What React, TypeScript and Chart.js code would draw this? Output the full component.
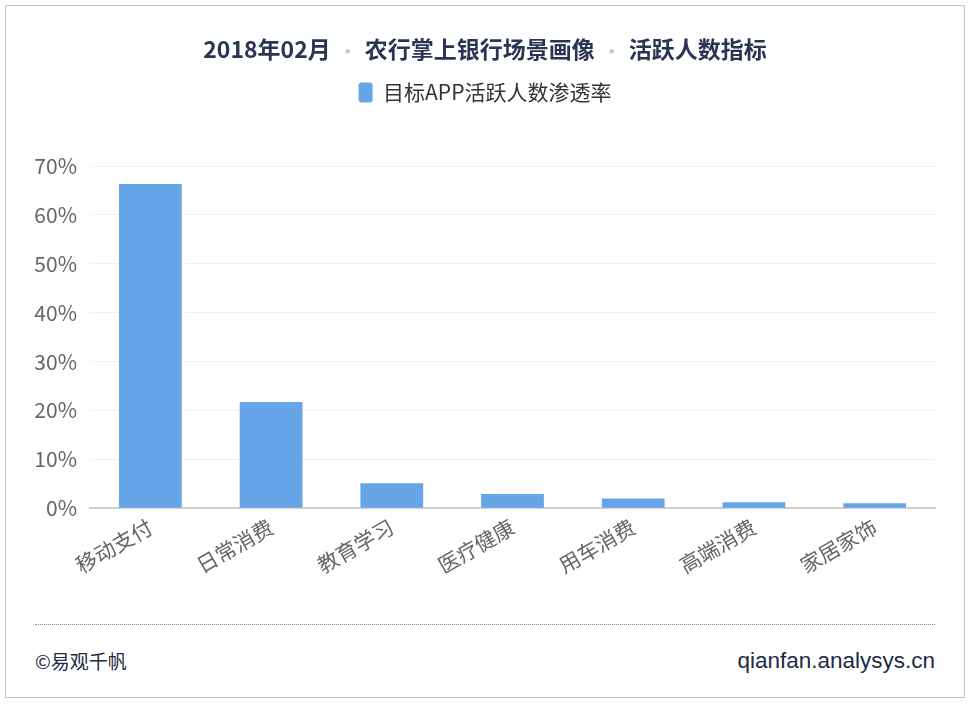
import React, { useEffect, useRef } from "react";
import { Chart, registerables } from "chart.js";

Chart.register(...registerables);

const categories = ["移动支付", "日常消费", "教育学习", "医疗健康", "用车消费", "高端消费", "家居家饰"];
const penetration = [66.3, 21.7, 5.1, 2.9, 2.0, 1.2, 1.0];
const yTicks = [0, 10, 20, 30, 40, 50, 60, 70];
const seriesName = "目标APP活跃人数渗透率";
const titleParts = ["2018年02月", "农行掌上银行场景画像", "活跃人数指标"];
const footerLeft = "©易观千帆";
const footerRight = "qianfan.analysys.cn";

const FONT = "'Noto Sans CJK SC', 'Noto Sans', sans-serif";
const PAD_RIGHT = 29;

const legendGap = {
  id: "legendGap",
  beforeInit(chart: any) {
    const orig = chart.legend.fit;
    chart.legend.fit = function () {
      orig.bind(chart.legend)();
      this.height += 53;
    };
  },
  afterLayout(chart: any) {
    const lg = chart.legend;
    if (lg) {
      lg.left += PAD_RIGHT / 2;
      lg.right += PAD_RIGHT / 2;
    }
  },
};

export default function App() {
  const ref = useRef<HTMLCanvasElement | null>(null);

  useEffect(() => {
    document.body.style.margin = "0";
    const chart = new Chart(ref.current!, {
      type: "bar",
      data: {
        labels: categories,
        datasets: [
          {
            label: seriesName,
            data: penetration,
            backgroundColor: "#66a6e8",
            borderWidth: 0,
            categoryPercentage: 1,
            barPercentage: 0.52,
          },
        ],
      },
      plugins: [legendGap],
      options: {
        animation: false,
        responsive: false,
        devicePixelRatio: 1,
        layout: { padding: { top: 66, right: PAD_RIGHT, bottom: 10, left: 0 } },
        plugins: {
          title: { display: false },
          tooltip: { enabled: false },
          legend: {
            display: true,
            position: "top",
            labels: {
              boxWidth: 14,
              boxHeight: 20,
              useBorderRadius: true,
              borderRadius: 3,
              padding: 10,
              color: "#333",
              font: { family: FONT, size: 21 },
            },
          },
        },
        scales: {
          x: {
            grid: { display: false, drawTicks: false },
            border: { display: true, color: "#d0d0d0", width: 2 },
            ticks: {
              autoSkip: false,
              maxRotation: 30,
              minRotation: 30,
              padding: 6,
              color: "#666",
              font: { family: FONT, size: 21 },
            },
          },
          y: {
            min: 0,
            max: 70,
            afterBuildTicks: (axis: any) => {
              axis.ticks = yTicks.map((v) => ({ value: v }));
            },
            afterFit: (axis: any) => {
              axis.width = 84;
            },
            grid: { color: "#f1f1f1", drawTicks: false },
            border: { display: false },
            ticks: {
              padding: 13,
              color: "#666",
              font: { family: FONT, size: 21 },
              callback: (v: any) => v + "%",
            },
          },
        },
      },
    });
    return () => chart.destroy();
  }, []);

  return (
    <div
      style={{
        position: "absolute",
        left: 5,
        top: 5,
        width: 958,
        height: 691,
        border: "1px solid #c4c4c4",
        background: "#fff",
        fontFamily: FONT,
      }}
    >
      <canvas ref={ref} width={958} height={588} style={{ position: "absolute", left: 0, top: 0 }} />
      <div
        style={{
          position: "absolute",
          left: 0,
          top: 27,
          width: 958,
          textAlign: "center",
          fontSize: 23,
          fontWeight: "bold",
          color: "#2b3553",
          lineHeight: "30px",
        }}
      >
        {titleParts.map((p, i) => (
          <React.Fragment key={i}>
            {i > 0 && <span style={{ color: "#c8c8c8", margin: "0 8px", fontSize: 18 }}>•</span>}
            <span>{p}</span>
          </React.Fragment>
        ))}
      </div>
      <div
        style={{
          position: "absolute",
          left: 29,
          top: 618,
          width: 900,
          borderTop: "1px dotted #888",
        }}
      />
      <div
        style={{
          position: "absolute",
          left: 29,
          top: 642,
          fontSize: 19,
          color: "#1e2a44",
          lineHeight: "26px",
        }}
      >
        {footerLeft}
      </div>
      <div
        style={{
          position: "absolute",
          right: 29,
          top: 642,
          fontSize: 22.5,
          color: "#1e2a44",
          lineHeight: "26px",
          fontFamily: "'Liberation Sans', Arial, sans-serif",
        }}
      >
        {footerRight}
      </div>
    </div>
  );
}
